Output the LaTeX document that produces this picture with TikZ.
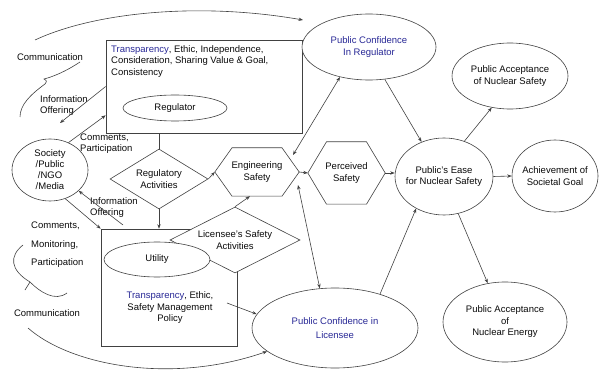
\documentclass[tikz,border=0pt]{standalone}
\usepackage{fontspec}
\setmainfont{Liberation Sans}
\usetikzlibrary{shapes.geometric,arrows.meta,calc}
\definecolor{lc}{RGB}{65,65,65}
\definecolor{tc}{RGB}{10,10,10}
\definecolor{bt}{RGB}{40,40,150}
% hexagon outline around a plain rectangular node: #1 node name, #2 half length of the flat edges
\newcommand{\drawhex}[2]{\draw[ln] (#1.west) -- ([xshift=-#2]#1.north) -- ([xshift=#2]#1.north) -- (#1.east) -- ([xshift=#2]#1.south) -- ([xshift=-#2]#1.south) -- cycle;}
\begin{document}
\begin{tikzpicture}[x=1pt,y=-1pt,
  every node/.style={font=\fontsize{9.5}{11.5}\selectfont, text=tc},
  ln/.style={draw=lc, line width=0.6pt},
  arr/.style={ln, -{Stealth[length=4.5pt,width=3.4pt]}},
  arrb/.style={ln, {Stealth[length=4.5pt,width=3.4pt]}-{Stealth[length=4.5pt,width=3.4pt]}},
  ell/.style={ellipse, ln, fill=white, inner sep=0pt},
  txt/.style={align=center, inner sep=0pt},
  lft/.style={align=left, inner sep=0pt, anchor=west},
  box/.style={rectangle, ln, inner sep=0pt},
  dia/.style={diamond, ln, fill=white, inner sep=0pt, align=center},
  hexn/.style={rectangle, inner sep=0pt, align=center},
]
\useasboundingbox (0,0) rectangle (599,371);

% society
\node[ell, minimum width=76pt, minimum height=62pt,
      label={[txt,font=\fontsize{9.5}{11}\selectfont]center:Society\\/Public\\/NGO\\/Media}] (soc) at (50,170) {};

% regulator block
\node[box, minimum width=196pt, minimum height=93pt] (regbox) at (204,86.5) {};
\node[anchor=north west, align=left, inner sep=0pt] (regtxt) at (111,45)
  {\textcolor{bt}{Transparency}, Ethic, Independence,\\Consideration, Sharing Value \& Goal,\\Consistency};
\node[ell, minimum width=104pt, minimum height=26pt] (reg) at (175,108) {Regulator};
\node[dia, aspect=1.63, minimum width=98pt, minimum height=60pt] (regact) at (159,179) {Regulatory\\Activities};

% utility block
\node[box, minimum width=136pt, minimum height=117pt] (utilbox) at (169,287.5) {};
\node[dia, aspect=1.97, minimum width=130pt, minimum height=66pt] (licact) at (235,240) {Licensee’s Safety\\Activities};
\node[ell, minimum width=106pt, minimum height=35pt] (util) at (157,259.5) {Utility};
\node[txt] (utxt) at (170,308) {\textcolor{bt}{Transparency}, Ethic,\\Safety Management\\Policy};

% safety hexagons
\node[hexn, minimum width=84pt, minimum height=48pt] (eng) at (257,172) {Engineering\\Safety};
\drawhex{eng}{25pt}
\node[hexn, minimum width=77pt, minimum height=62pt] (perc) at (346.5,173) {Perceived\\Safety};
\drawhex{perc}{20pt}

% public outcome ellipses
\node[ell, minimum width=134pt, minimum height=66pt,
      label={[txt,text=bt]center:Public Confidence\\In Regulator}] (pcr) at (369,47) {};
\node[ell, minimum width=98pt, minimum height=77pt,
      label={[txt]center:Public’s Ease\\for Nuclear Safety}] (pease) at (444,176.5) {};
\node[ell, minimum width=116pt, minimum height=66pt,
      label={[txt]center:Public Acceptance\\of Nuclear Safety}] (pans) at (510,76) {};
\node[ell, minimum width=86pt, minimum height=72pt,
      label={[txt]center:Achievement of\\Societal Goal}] (goal) at (555,176) {};
\node[ell, minimum width=124pt, minimum height=80pt,
      label={[txt]center:Public Acceptance\\of\\Nuclear Energy}] (pane) at (505,322) {};
\node[ell, minimum width=166pt, minimum height=80pt,
      label={[txt,text=bt,font=\fontsize{9.5}{13.5}\selectfont]center:Public Confidence in\\Licensee}] (pcl) at (335,328) {};

% free labels
\node[txt] (comm1) at (50,57) {Communication};
\node[lft] (info1) at (40,105.5) {Information\\Offering};
\node[lft] (cpart) at (80,143.5) {Comments,\\Participation};
\node[lft] (info2) at (90,207.5) {Information\\Offering};
\node[lft, font=\fontsize{9.5}{18.5}\selectfont] (cmp) at (31,245) {Comments,\\Monitoring,\\Participation};
\node[txt] (comm2) at (47,313) {Communication};

% free connector ends
\coordinate (topstart) at (35,40);
\coordinate (topend) at (303,20);
\coordinate (i1end) at (60,123);
\coordinate (i2start) at (123,225);
\coordinate (botstart) at (28,328);
\coordinate (utstart) at (227,303);

% communication curves and braces
\draw[arr] (topstart) .. controls (95,12) and (200,2) .. (topend);
\draw[arr] (botstart) .. controls (70,365) and (170,385) .. (pcl.199);
\draw[ln] (80,62) .. controls (65,72) and (52,77) .. (44,79) .. controls (47,81) .. (45,84) .. controls (30,95) and (20,105) .. (20,117);
\draw[ln] (23,245) .. controls (9,256) and (10,270) .. (30,282) -- (25,290);
\draw[ln] (30,282) .. controls (40,292) and (55,302) .. (67,293);

% society links
\draw[arr] (regbox.west) -- (i1end);
\draw[arr] (soc.56) -- ([yshift=18pt]regbox.south west);
\draw[arr] (i2start) -- (soc.324);
\draw[arr] (soc.298) -- (utilbox.north west);

% activity links
\draw[ln] (regact.north) -- (regact.north |- regbox.south);
\draw[arr] (regact.south) -- (regact.south |- utilbox.north);
\draw[arr] (regact.east) -- (eng.west);
\draw[arr] (licact.north) -- ([xshift=-7pt]eng.south);
\draw[arr] (eng.east) -- (perc.west);
\draw[arrb] ([shift={(36pt,17pt)}]eng.center) -- (pcr.226);
\draw[arrb] ([shift={(41pt,-13pt)}]eng.center) -- (pcl.111);
\draw[arr] (utstart) -- (pcl.170);

% outcome links
\draw[arr] (pcr.296) -- (pease.123);
\draw[arr] (perc.east) -- (perc.east -| pease.west);
\draw[arr] (pcl.37) -- (pease.229);
\draw[arr] (pease.60) -- (pans.240);
\draw[arr] (pease.east) -- (goal.west);
\draw[arr] (pease.291) -- (pane.114);
\end{tikzpicture}
\end{document}
